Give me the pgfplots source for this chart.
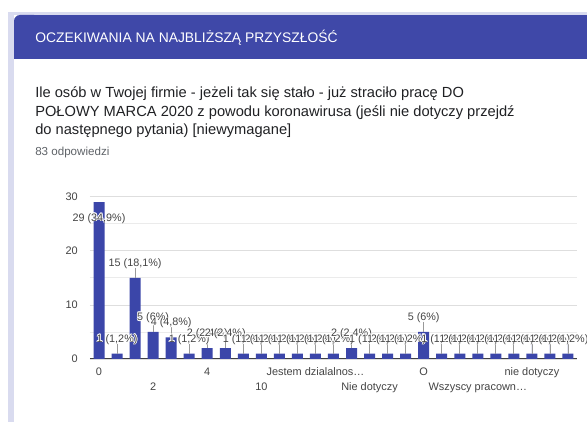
\documentclass[border=0pt]{standalone}
\usepackage{fontspec}
\setmainfont{Liberation Sans}
\usepackage{pgfplots}
\pgfplotsset{compat=1.18}
\usepackage{pgfplotstable}
\definecolor{hdr}{HTML}{3F48A8}
\definecolor{lav}{HTML}{D9DBEF}
\definecolor{barc}{HTML}{3B46A9}
\definecolor{txt}{HTML}{202124}
\definecolor{subc}{HTML}{5F6368}
\definecolor{tickc}{HTML}{444444}
\newcommand\halo[1]{%
 \rlap{\color{white}\kern0.6pt#1}%
 \rlap{\color{white}\kern-0.6pt#1}%
 \rlap{\color{white}\raisebox{0.6pt}{#1}}%
 \rlap{\color{white}\raisebox{-0.6pt}{#1}}%
 \rlap{\color{white}\kern0.45pt\raisebox{0.45pt}{#1}}%
 \rlap{\color{white}\kern-0.45pt\raisebox{0.45pt}{#1}}%
 \rlap{\color{white}\kern0.45pt\raisebox{-0.45pt}{#1}}%
 \rlap{\color{white}\kern-0.45pt\raisebox{-0.45pt}{#1}}%
 #1}
\pgfplotstableread[col sep=semicolon]{
x;y;err;dy;label
0;29;0;-14.25;29 (34,9\%)
1;1;1.85;8.6;1 (1,2\%)
2;15;1.85;8.6;15 (18,1\%)
3;5;1.85;8.6;5 (6\%)
4;4;1.85;8.6;4 (4,8\%)
5;1;1.85;8.6;1 (1,2\%)
6;2;1.85;8.6;2 (2,4\%)
7;2;1.85;8.6;2 (2,4\%)
8;1;1.85;8.6;1 (1,2\%)
9;1;1.85;8.6;1 (1,2\%)
10;1;1.85;8.6;1 (1,2\%)
11;1;1.85;8.6;1 (1,2\%)
12;1;1.85;8.6;1 (1,2\%)
13;1;1.85;8.6;1 (1,2\%)
14;2;1.85;8.6;2 (2,4\%)
15;1;1.85;8.6;1 (1,2\%)
16;1;1.85;8.6;1 (1,2\%)
17;1;1.85;8.6;1 (1,2\%)
18;5;1.85;8.6;5 (6\%)
19;1;1.85;8.6;1 (1,2\%)
20;1;1.85;8.6;1 (1,2\%)
21;1;1.85;8.6;1 (1,2\%)
22;1;1.85;8.6;1 (1,2\%)
23;1;1.85;8.6;1 (1,2\%)
24;1;1.85;8.6;1 (1,2\%)
25;1;1.85;8.6;1 (1,2\%)
26;1;1.85;8.6;1 (1,2\%)
}\data
\begin{document}
\begin{tikzpicture}
\begin{scope}[shift={(0pt,316.5pt)}, x=0.75pt, y=-0.75pt]
\fill[white] (-2,-2) rectangle (590,424);
\fill[lav] (8,12) rectangle (14,424);
\fill[lav] (8,12) rectangle (590,15);
\fill[hdr, rounded corners=4.5pt] (14,15) rectangle (40,59);
\fill[hdr] (24,15) rectangle (590,59);
\fill[hdr] (14,30) rectangle (40,59);
\node[anchor=base west, inner sep=0pt, text=white, font=\fontsize{10.4}{12}\selectfont] at (35,42.3) {OCZEKIWANIA NA NAJBLIŻSZĄ PRZYSZŁOŚĆ};
\node[anchor=base west, inner sep=0pt, text=txt, font=\fontsize{11}{13}\selectfont] at (35,98) {Ile osób w Twojej firmie - jeżeli tak się stało - już straciło pracę DO};
\node[anchor=base west, inner sep=0pt, text=txt, font=\fontsize{11}{13}\selectfont] at (35,116.7) {POŁOWY MARCA 2020 z powodu koronawirusa (jeśli nie dotyczy przejdź};
\node[anchor=base west, inner sep=0pt, text=txt, font=\fontsize{11}{13}\selectfont] at (35,134.5) {do następnego pytania) [niewymagane]};
\node[anchor=base west, inner sep=0pt, text=subc, font=\fontsize{8.7}{10}\selectfont] at (35,156) {83 odpowiedzi};
\end{scope}
\begin{axis}[
  at={(67.5pt,47.25pt)}, anchor=south west, scale only axis,
  width=365.25pt, height=121.7pt,
  xmin=-0.5, xmax=26.5, ymin=0, ymax=30,
  axis x line*=bottom, axis y line*=left,
  axis line style={-},
  x axis line style={draw=black!75, line width=0.75pt},
  y axis line style={draw=none},
  ytick={0,10,20,30}, minor ytick={5,15,25},
  ymajorgrids, yminorgrids,
  major grid style={draw=black!13, line width=0.6pt},
  minor grid style={draw=black!8, line width=0.6pt},
  major tick length=0pt, minor tick length=0pt,
  xtick={0,6,12,18,24},
  xticklabels={0,4,Jestem dzialalnos…,O,nie dotyczy},
  extra x ticks={3,9,15,21},
  extra x tick labels={2,10,Nie dotyczy,Wszyscy pracown…},
  extra x tick style={xticklabel style={yshift=-11.25pt}},
  tick label style={font=\fontsize{8.2}{10}\selectfont, text=tickc},
  /pgf/number format/assume math mode=true,
  xticklabel style={anchor=base, inner sep=0pt, yshift=-12.75pt},
  yticklabel style={anchor=east, inner sep=0pt, xshift=-9pt},
  clip=false,
  nodes near coords={\halo{\pgfplotspointmeta}},
  point meta=explicit symbolic,
  visualization depends on={\thisrow{dy} \as \dy},
  every node near coord/.append style={anchor=base, inner sep=0pt, yshift=\dy pt, font=\fontsize{8.1}{10}\selectfont, text=tickc},
]
\addplot[ybar, bar width=0.61, bar shift=0pt, fill=barc, draw=none,
  error bars/.cd, y dir=plus, y explicit, error mark=none,
  error bar style={draw=black!40, line width=0.6pt}]
  table[x=x, y=y, y error=err, meta=label]{\data};
\end{axis}
\pgfresetboundingbox
\path[use as bounding box] (0pt,0pt) rectangle (440.25pt,316.5pt);
\end{tikzpicture}
\end{document}
